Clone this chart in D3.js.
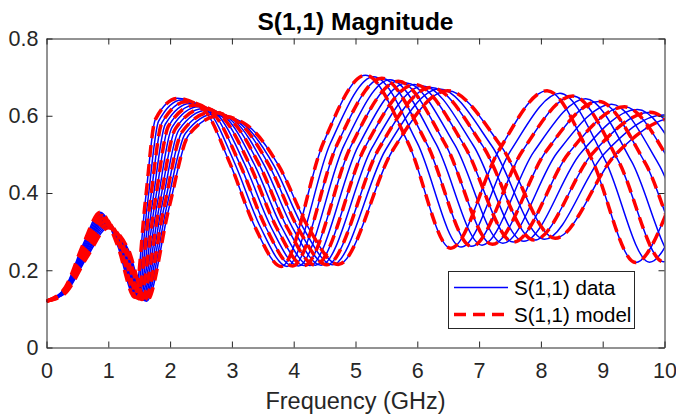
<!DOCTYPE html>
<html>
<head>
<meta charset="utf-8">
<script src="https://cdn.jsdelivr.net/npm/d3@7"></script>
<style>
  body { margin: 0; background: #fff; }
  svg { display: block; font-family: "Liberation Sans", Arial, Helvetica, sans-serif; }
</style>
</head>
<body>
<svg id="chart" width="676" height="416"></svg>
<script>
// Tick labels
const freqTicks = [0, 1, 2, 3, 4, 5, 6, 7, 8, 9, 10];
const magTicks = [0, 0.2, 0.4, 0.6, 0.8];

// |S11| of each sweep: [frequency (GHz), magnitude] knots
const sweep0 = [[0,0.12],[0.3,0.155],[0.6,0.27],[0.87,0.35],[1.15,0.264],[1.43,0.13],[1.6,0.38],[1.76,0.59],[2.12,0.645],[2.55,0.615],[2.96,0.48],[3.38,0.31],[3.8,0.21],[4.48,0.53],[5.16,0.705],[5.85,0.53],[6.54,0.257],[7.32,0.51],[8.1,0.665],[8.815,0.49],[9.53,0.22],[10.35,0.46],[11.1,0.64]];
const sweep1 = [[0,0.12],[0.3,0.1535],[0.606,0.2665],[0.883,0.346],[1.167,0.263],[1.449,0.129],[1.638,0.378],[1.814,0.586],[2.188,0.641],[2.62,0.611],[3.04,0.479],[3.466,0.31],[3.892,0.21],[4.592,0.528],[5.293,0.701],[6.001,0.529],[6.709,0.26],[7.509,0.509],[8.309,0.658],[9.033,0.487],[9.757,0.221],[10.58,0.46],[11.35,0.64]];
const sweep2 = [[0,0.12],[0.3,0.152],[0.612,0.263],[0.896,0.342],[1.184,0.262],[1.468,0.128],[1.676,0.376],[1.868,0.582],[2.256,0.636],[2.69,0.607],[3.12,0.478],[3.552,0.31],[3.984,0.211],[4.704,0.526],[5.426,0.697],[6.152,0.528],[6.878,0.262],[7.698,0.508],[8.518,0.651],[9.251,0.484],[9.984,0.222],[10.81,0.46],[11.6,0.64]];
const sweep3 = [[0,0.12],[0.3,0.1505],[0.618,0.2595],[0.909,0.338],[1.201,0.261],[1.487,0.127],[1.714,0.374],[1.922,0.578],[2.324,0.632],[2.76,0.603],[3.2,0.477],[3.638,0.31],[4.076,0.211],[4.816,0.524],[5.559,0.693],[6.303,0.527],[7.047,0.265],[7.887,0.507],[8.727,0.644],[9.469,0.481],[10.211,0.223],[11.04,0.46],[11.85,0.64]];
const sweep4 = [[0,0.12],[0.3,0.149],[0.624,0.256],[0.922,0.334],[1.218,0.26],[1.506,0.126],[1.752,0.372],[1.976,0.574],[2.392,0.627],[2.83,0.599],[3.28,0.476],[3.724,0.31],[4.168,0.212],[4.928,0.522],[5.692,0.689],[6.454,0.526],[7.216,0.267],[8.076,0.506],[8.936,0.637],[9.687,0.478],[10.438,0.224],[11.27,0.46],[12.1,0.64]];
const sweep5 = [[0,0.12],[0.3,0.1475],[0.63,0.2525],[0.935,0.33],[1.235,0.259],[1.525,0.125],[1.79,0.37],[2.03,0.57],[2.46,0.623],[2.9,0.595],[3.36,0.475],[3.81,0.31],[4.26,0.212],[5.04,0.52],[5.825,0.685],[6.605,0.525],[7.385,0.27],[8.265,0.505],[9.145,0.63],[9.905,0.475],[10.665,0.225],[11.5,0.46],[12.35,0.64]];
const sweep6 = [[0,0.12],[0.3,0.146],[0.636,0.249],[0.948,0.326],[1.252,0.259],[1.544,0.124],[1.828,0.368],[2.084,0.566],[2.528,0.618],[2.97,0.591],[3.44,0.474],[3.896,0.31],[4.352,0.213],[5.152,0.518],[5.958,0.681],[6.756,0.524],[7.554,0.273],[8.454,0.504],[9.354,0.623],[10.123,0.472],[10.892,0.226],[11.73,0.46],[12.6,0.64]];
const sweep7 = [[0,0.12],[0.3,0.1445],[0.642,0.2455],[0.961,0.322],[1.269,0.258],[1.563,0.123],[1.866,0.366],[2.138,0.562],[2.596,0.614],[3.04,0.587],[3.52,0.473],[3.982,0.31],[4.444,0.213],[5.264,0.516],[6.091,0.677],[6.907,0.523],[7.723,0.275],[8.643,0.503],[9.563,0.616],[10.341,0.469],[11.119,0.227],[11.96,0.46],[12.85,0.64]];
const sweep8 = [[0,0.12],[0.3,0.143],[0.648,0.242],[0.974,0.318],[1.286,0.257],[1.582,0.122],[1.904,0.364],[2.192,0.558],[2.664,0.609],[3.11,0.583],[3.6,0.472],[4.068,0.31],[4.536,0.214],[5.376,0.514],[6.224,0.673],[7.058,0.522],[7.892,0.278],[8.832,0.502],[9.772,0.609],[10.559,0.466],[11.346,0.228],[12.19,0.46],[13.1,0.64]];
const sweep9 = [[0,0.12],[0.3,0.1415],[0.654,0.2385],[0.987,0.314],[1.303,0.256],[1.601,0.121],[1.942,0.362],[2.246,0.554],[2.732,0.605],[3.18,0.579],[3.68,0.471],[4.154,0.31],[4.628,0.214],[5.488,0.512],[6.357,0.669],[7.209,0.521],[8.061,0.28],[9.021,0.501],[9.981,0.602],[10.777,0.463],[11.573,0.229],[12.42,0.46],[13.35,0.64]];
const sweep10 = [[0,0.12],[0.3,0.14],[0.66,0.235],[1.0,0.31],[1.32,0.255],[1.62,0.12],[1.98,0.36],[2.3,0.55],[2.8,0.6],[3.25,0.575],[3.76,0.47],[4.24,0.31],[4.72,0.215],[5.6,0.51],[6.49,0.665],[7.36,0.52],[8.23,0.283],[9.21,0.5],[10.19,0.595],[10.995,0.46],[11.8,0.23],[12.65,0.46],[13.6,0.64]];

const dataSweeps = [sweep0, sweep1, sweep2, sweep3, sweep4, sweep5, sweep6, sweep7, sweep8, sweep9, sweep10];
const modelSweeps = [sweep0, sweep2, sweep4, sweep6, sweep8, sweep10];

const svg = d3.select("#chart");
const axisColor = "#262626";
const fontStack = '"Liberation Sans", Arial, Helvetica, sans-serif';

const x = d3.scaleLinear().domain([0, 10]).range([46.5, 664.5]);
const y = d3.scaleLinear().domain([0, 0.8]).range([347.5, 38.5]);

// plot-area clip
svg.append("defs").append("clipPath").attr("id", "plotClip")
  .append("rect")
  .attr("x", x(0)).attr("y", y(0.8))
  .attr("width", x(10) - x(0)).attr("height", y(0) - y(0.8));

const line = d3.line()
  .x(d => x(d[0]))
  .y(d => y(d[1]))
  .curve(d3.curveMonotoneX);

const plot = svg.append("g").attr("clip-path", "url(#plotClip)");

plot.selectAll("path.data")
  .data(dataSweeps)
  .join("path")
  .attr("class", "data")
  .attr("d", line)
  .attr("fill", "none")
  .attr("stroke", "#0000ff")
  .attr("stroke-width", 1.5);

plot.selectAll("path.model")
  .data(modelSweeps)
  .join("path")
  .attr("class", "model")
  .attr("d", line)
  .attr("fill", "none")
  .attr("stroke", "#ff0000")
  .attr("stroke-width", 3.5)
  .attr("stroke-dasharray", "12,7");

// axes with inward ticks on all four sides
function styleAxis(g) {
  g.selectAll("path.domain").attr("stroke", axisColor).attr("stroke-width", 1);
  g.selectAll(".tick line").attr("stroke", axisColor).attr("stroke-width", 1);
  g.selectAll(".tick text").attr("fill", axisColor).attr("font-size", "21.5px")
    .attr("font-family", fontStack);
}

svg.append("g")
  .attr("transform", `translate(0,${y(0)})`)
  .call(d3.axisBottom(x).tickValues(freqTicks).tickFormat(d3.format("d"))
    .tickSizeInner(-6).tickSizeOuter(0).tickPadding(15.5))
  .call(styleAxis);

svg.append("g")
  .attr("transform", `translate(0,${y(0.8)})`)
  .call(d3.axisTop(x).tickValues(freqTicks).tickFormat("")
    .tickSizeInner(-6).tickSizeOuter(0))
  .call(styleAxis);

svg.append("g")
  .attr("transform", `translate(${x(0)},0)`)
  .call(d3.axisLeft(y).tickValues(magTicks).tickFormat(d => d === 0 ? "0" : d3.format(".1f")(d))
    .tickSizeInner(-6).tickSizeOuter(0).tickPadding(8))
  .call(styleAxis);

svg.append("g")
  .attr("transform", `translate(${x(10)},0)`)
  .call(d3.axisRight(y).tickValues(magTicks).tickFormat("")
    .tickSizeInner(-6).tickSizeOuter(0))
  .call(styleAxis);

// title and axis label
svg.append("text")
  .attr("x", (x(0) + x(10)) / 2).attr("y", 30)
  .attr("text-anchor", "middle")
  .attr("font-size", "24.5px").attr("font-weight", "bold")
  .attr("fill", "#000")
  .text("S(1,1) Magnitude");

svg.append("text")
  .attr("x", (x(0) + x(10)) / 2).attr("y", 409)
  .attr("text-anchor", "middle")
  .attr("font-size", "23.5px")
  .attr("fill", axisColor)
  .text("Frequency (GHz)");

// legend
const legend = svg.append("g");
legend.append("rect")
  .attr("x", 448.5).attr("y", 271.5)
  .attr("width", 186).attr("height", 57)
  .attr("fill", "#fff").attr("stroke", axisColor).attr("stroke-width", 1);

const legendItems = [
  { label: "S(1,1) data", color: "#0000ff", width: 1.5, dash: null, cy: 287.5 },
  { label: "S(1,1) model", color: "#ff0000", width: 3.5, dash: "12,7", cy: 314.5 }
];

const item = legend.selectAll("g.item").data(legendItems).join("g").attr("class", "item");
item.append("line")
  .attr("x1", 454).attr("x2", 508)
  .attr("y1", d => d.cy).attr("y2", d => d.cy)
  .attr("stroke", d => d.color)
  .attr("stroke-width", d => d.width)
  .attr("stroke-dasharray", d => d.dash);
item.append("text")
  .attr("x", 514).attr("y", d => d.cy + 7.5)
  .attr("font-size", "20.5px").attr("font-family", fontStack).attr("fill", "#000")
  .text(d => d.label);
</script>
</body>
</html>
